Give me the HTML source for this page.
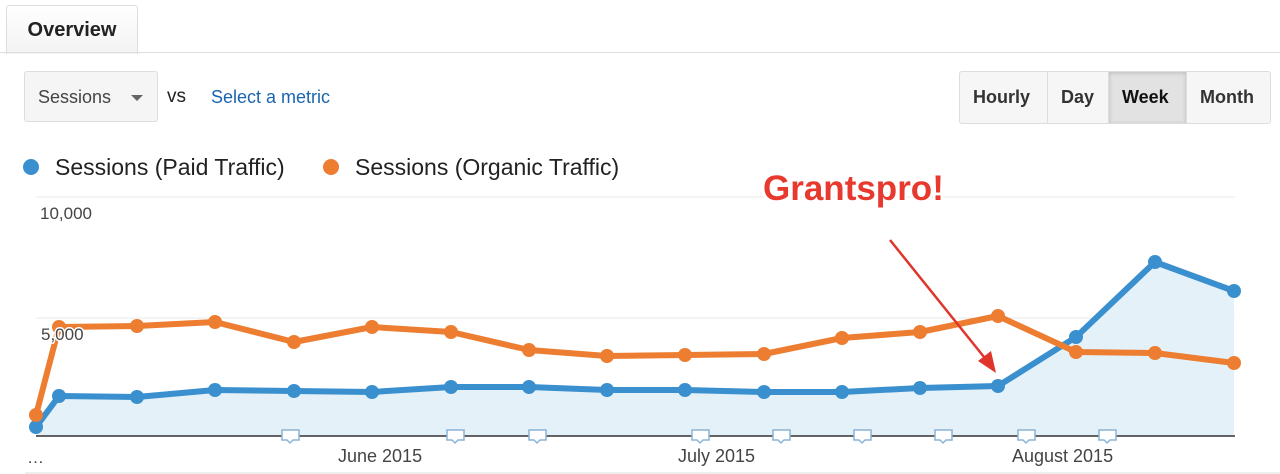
<!DOCTYPE html>
<html><head><style>
body{margin:0;width:1280px;height:474px;background:#fff;font-family:"Liberation Sans",sans-serif;position:relative;overflow:hidden}
.tab{position:absolute;left:6px;top:5px;width:130px;height:48px;border:1px solid #ddd;border-bottom:none;border-radius:3px 3px 0 0;background:linear-gradient(#fff,#f3f3f3);font-weight:bold;font-size:20px;color:#222;line-height:48px;text-align:center}
.line{position:absolute;left:0;right:0;top:52px;border-top:1px solid #ddd}
.sel{position:absolute;left:24px;top:71px;width:134px;height:51px;border:1px solid #ddd;border-radius:3px;background:#f5f5f5;font-size:18px;color:#444;line-height:51px;box-sizing:border-box;padding-left:13px}
.sel:after{content:"";position:absolute;right:14px;top:23px;border:6px solid transparent;border-top-color:#666;border-bottom:none}
.btns{position:absolute;left:959px;top:71px;height:51px;border:1px solid #ddd;border-radius:3px;display:flex;overflow:hidden;background:#f6f6f6}
.btns div{font-weight:bold;font-size:18px;color:#333;line-height:51px;padding:0 13px;border-right:1px solid #ddd}
.btns div:last-child{border:none}
</style></head><body>
<div class="tab">Overview</div><div class="line"></div>
<div class="sel">Sessions</div>
<div style="position:absolute;left:167px;top:86px;font-size:19px;color:#222">vs</div>
<div style="position:absolute;left:211px;top:87px;font-size:18px;color:#1a64b0">Select a metric</div>
<div class="btns"><div style="width:61px">Hourly</div><div style="width:34px">Day</div><div style="width:51px;background:#e2e2e2;box-shadow:inset 0 1px 4px #bbb;color:#111">Week</div><div style="width:57px">Month</div></div>
<svg width="1280" height="474" style="position:absolute;left:0;top:0" font-family="Liberation Sans, sans-serif">
<circle cx="31" cy="167" r="8" fill="#3a8fce"/><text x="55" y="175" font-size="23" fill="#222">Sessions (Paid Traffic)</text>
<circle cx="331" cy="167" r="8" fill="#ed7d31"/><text x="355" y="175" font-size="23" fill="#222">Sessions (Organic Traffic)</text>
<line x1="36" y1="197" x2="1235" y2="197" stroke="#e8e8e8"/>
<line x1="36" y1="318" x2="1235" y2="318" stroke="#e8e8e8"/>
<text x="40" y="219" font-size="17" fill="#444">10,000</text>
<polygon fill="#e4f1f9" points="36,436 36,427 59,396 137,397 215,390 294,391 372,392 451,387 529,387 607,390 685,390 764,392 842,392 920,388 998,386 1076,337 1155,262 1234,291 1234,436"/>
<polyline fill="none" stroke="#3a8fce" stroke-width="6" stroke-linejoin="round" points="36,427 59,396 137,397 215,390 294,391 372,392 451,387 529,387 607,390 685,390 764,392 842,392 920,388 998,386 1076,337 1155,262 1234,291"/>
<g fill="#3a8fce"><circle cx="36" cy="427" r="7"/><circle cx="59" cy="396" r="7"/><circle cx="137" cy="397" r="7"/><circle cx="215" cy="390" r="7"/><circle cx="294" cy="391" r="7"/><circle cx="372" cy="392" r="7"/><circle cx="451" cy="387" r="7"/><circle cx="529" cy="387" r="7"/><circle cx="607" cy="390" r="7"/><circle cx="685" cy="390" r="7"/><circle cx="764" cy="392" r="7"/><circle cx="842" cy="392" r="7"/><circle cx="920" cy="388" r="7"/><circle cx="998" cy="386" r="7"/><circle cx="1076" cy="337" r="7"/><circle cx="1155" cy="262" r="7"/><circle cx="1234" cy="291" r="7"/></g>
<polyline fill="none" stroke="#ed7d31" stroke-width="6" stroke-linejoin="round" points="36,415 59,327 137,326 215,322 294,342 372,327 451,332 529,350 607,356 685,355 764,354 842,338 920,332 998,316 1076,352 1155,353 1234,363"/>
<g fill="#ed7d31"><circle cx="36" cy="415" r="7"/><circle cx="59" cy="327" r="7"/><circle cx="137" cy="326" r="7"/><circle cx="215" cy="322" r="7"/><circle cx="294" cy="342" r="7"/><circle cx="372" cy="327" r="7"/><circle cx="451" cy="332" r="7"/><circle cx="529" cy="350" r="7"/><circle cx="607" cy="356" r="7"/><circle cx="685" cy="355" r="7"/><circle cx="764" cy="354" r="7"/><circle cx="842" cy="338" r="7"/><circle cx="920" cy="332" r="7"/><circle cx="998" cy="316" r="7"/><circle cx="1076" cy="352" r="7"/><circle cx="1155" cy="353" r="7"/><circle cx="1234" cy="363" r="7"/></g>
<text x="41" y="340" font-size="17" fill="#444" stroke="#fff" stroke-width="3" paint-order="stroke">5,000</text>
<line x1="36" y1="436" x2="1235" y2="436" stroke="#333" stroke-width="1.5"/>
<line x1="25" y1="473" x2="1280" y2="473" stroke="#ddd"/>
<g fill="#fff" stroke="#8bb4d6" stroke-width="1.5">
<path d="M282,430h17v10h-6l-3,3l-3,-3h-5z"/><path d="M447,430h17v10h-6l-3,3l-3,-3h-5z"/><path d="M529,430h17v10h-6l-3,3l-3,-3h-5z"/><path d="M692,430h17v10h-6l-3,3l-3,-3h-5z"/><path d="M773,430h17v10h-6l-3,3l-3,-3h-5z"/><path d="M854,430h17v10h-6l-3,3l-3,-3h-5z"/><path d="M935,430h17v10h-6l-3,3l-3,-3h-5z"/><path d="M1018,430h17v10h-6l-3,3l-3,-3h-5z"/><path d="M1099,430h17v10h-6l-3,3l-3,-3h-5z"/>
</g>
<text x="27" y="463" font-size="17" fill="#444">…</text>
<text x="338" y="462" font-size="18" fill="#444">June 2015</text>
<text x="678" y="462" font-size="18" fill="#444">July 2015</text>
<text x="1012" y="462" font-size="18" fill="#444">August 2015</text>
<line x1="890" y1="240" x2="988" y2="362" stroke="#e0352b" stroke-width="2.5"/>
<polygon points="996,373 978,361 991,351" fill="#e0352b"/>
<text x="763" y="200" font-size="35" font-weight="bold" fill="#e8392e" stroke="#fff" stroke-width="5" paint-order="stroke">Grantspro!</text>
</svg>
</body></html>
